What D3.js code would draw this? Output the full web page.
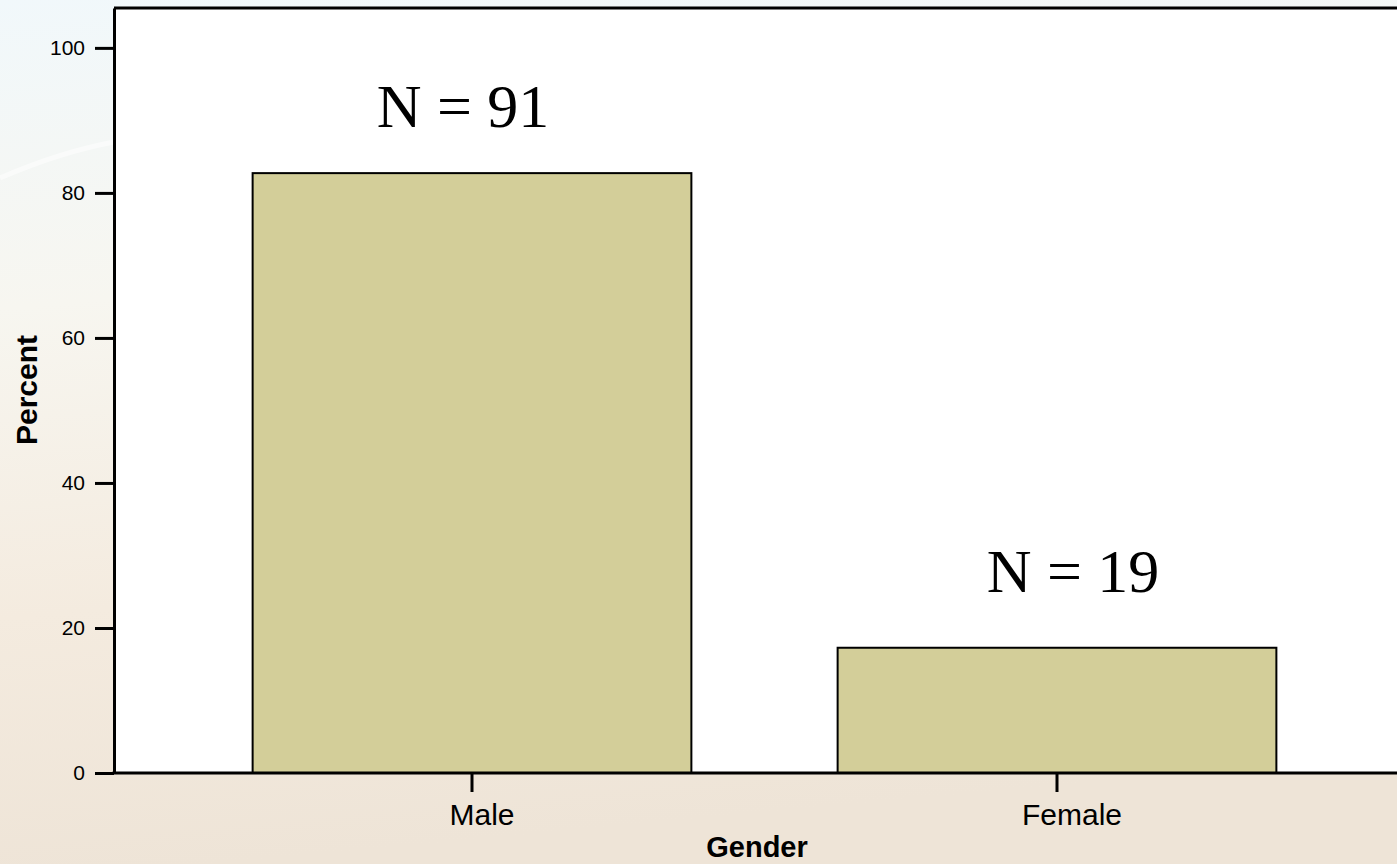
<!DOCTYPE html>
<html>
<head>
<meta charset="utf-8">
<script src="https://cdn.jsdelivr.net/npm/d3@7"></script>
<style>
  html, body { margin: 0; padding: 0; overflow: hidden; }
  svg { display: block; }
</style>
</head>
<body>
<div id="chart"></div>
<script>
// data
let categories = ["Male", "Female"];
let counts = [91, 19];
let yTicks = [0, 20, 40, 60, 80, 100];
let yMax = 105.5;

let total = d3.sum(counts);
let data = categories.map(function(c, i) {
  return {gender: c, n: counts[i], pct: counts[i] / total * 100};
});

let W = 1397, H = 864;
let plot = {left: 114, top: 8, bottom: 773, right: 1397};

let svg = d3.select("#chart")
  .append("svg")
    .attr("width", W)
    .attr("height", H);

// soft background gradient
let defs = svg.append("defs");
let grad = defs.append("linearGradient")
    .attr("id", "bg")
    .attr("x1", 0).attr("y1", 0).attr("x2", 0.15).attr("y2", 1);
grad.append("stop").attr("offset", "0%").attr("stop-color", "#f1f8fb");
grad.append("stop").attr("offset", "35%").attr("stop-color", "#f7f6f0");
grad.append("stop").attr("offset", "70%").attr("stop-color", "#f4ebdf");
grad.append("stop").attr("offset", "100%").attr("stop-color", "#eee4d7");
svg.append("rect")
    .attr("width", W).attr("height", H)
    .attr("fill", "url(#bg)");

// faint swoosh on the left
svg.append("path")
    .attr("d", "M0,178 Q60,152 114,142")
    .attr("fill", "none")
    .attr("stroke", "#ffffff")
    .attr("stroke-opacity", 0.5)
    .attr("stroke-width", 5);

// white plot area
svg.append("rect")
    .attr("x", plot.left).attr("y", plot.top)
    .attr("width", plot.right - plot.left + 5)
    .attr("height", plot.bottom - plot.top)
    .attr("fill", "#ffffff");

// scales
let x = d3.scaleBand()
    .domain(categories)
    .range([179.5, 1349.5])
    .paddingInner(0.25)
    .paddingOuter(0.125);

let y = d3.scaleLinear()
    .domain([0, yMax])
    .range([plot.bottom, plot.top]);

// bars
svg.append("g")
  .selectAll("rect")
  .data(data)
  .enter().append("rect")
    .attr("x", function(d) { return x(d.gender); })
    .attr("y", function(d) { return y(d.pct); })
    .attr("width", x.bandwidth())
    .attr("height", function(d) { return y(0) - y(d.pct); })
    .attr("fill", "#d3ce99")
    .attr("stroke", "#000")
    .attr("stroke-width", 2);

// N = labels above the bars (hand placed in the original)
let labelOffset = [{dx: -9, dy: -46}, {dx: 16, dy: -56}];
svg.append("g")
  .selectAll("text")
  .data(data)
  .enter().append("text")
    .attr("x", function(d, i) { return x(d.gender) + x.bandwidth() / 2 + labelOffset[i].dx; })
    .attr("y", function(d, i) { return y(d.pct) + labelOffset[i].dy; })
    .attr("text-anchor", "middle")
    .style("font-family", "'Liberation Serif', 'Times New Roman', serif")
    .style("font-size", "62px")
    .attr("fill", "#000")
    .text(function(d) { return "N = " + d.n; });

// frame lines: top and bottom
svg.append("line")
    .attr("x1", plot.left).attr("x2", plot.right + 5)
    .attr("y1", plot.top).attr("y2", plot.top)
    .attr("stroke", "#000").attr("stroke-width", 3);
svg.append("line")
    .attr("x1", plot.left - 1.5).attr("x2", plot.right + 5)
    .attr("y1", plot.bottom).attr("y2", plot.bottom)
    .attr("stroke", "#000").attr("stroke-width", 3);

// Y axis
let yAxis = svg.append("g")
    .attr("transform", "translate(" + plot.left + ",0)")
    .call(d3.axisLeft(y).tickValues(yTicks).tickSize(19).tickSizeOuter(0).tickPadding(10));
yAxis.select(".domain").attr("stroke-width", 3);
yAxis.selectAll(".tick line").attr("stroke-width", 3);
yAxis.selectAll(".tick text")
    .style("font-family", "'Liberation Sans', Arial, sans-serif")
    .style("font-size", "21px")
    .attr("fill", "#000");

// X axis (category labels sit a little right of their ticks in the original)
let xLabelShift = [10, 15];
let xAxis = svg.append("g")
    .attr("transform", "translate(0," + plot.bottom + ")")
    .call(d3.axisBottom(x).tickSize(19).tickSizeOuter(0).tickPadding(12));
xAxis.select(".domain").remove();
xAxis.selectAll(".tick line").attr("stroke-width", 3);
xAxis.selectAll(".tick text")
    .attr("x", function(d, i) { return xLabelShift[i]; })
    .style("font-family", "'Liberation Sans', Arial, sans-serif")
    .style("font-size", "30px")
    .attr("fill", "#000");

// axis titles
svg.append("text")
    .attr("x", 757)
    .attr("y", 857)
    .attr("text-anchor", "middle")
    .style("font-family", "'Liberation Sans', Arial, sans-serif")
    .style("font-size", "29px")
    .style("font-weight", "bold")
    .text("Gender");

svg.append("text")
    .attr("transform", "translate(37,390) rotate(-90)")
    .attr("text-anchor", "middle")
    .style("font-family", "'Liberation Sans', Arial, sans-serif")
    .style("font-size", "30px")
    .style("font-weight", "bold")
    .text("Percent");
</script>
</body>
</html>
